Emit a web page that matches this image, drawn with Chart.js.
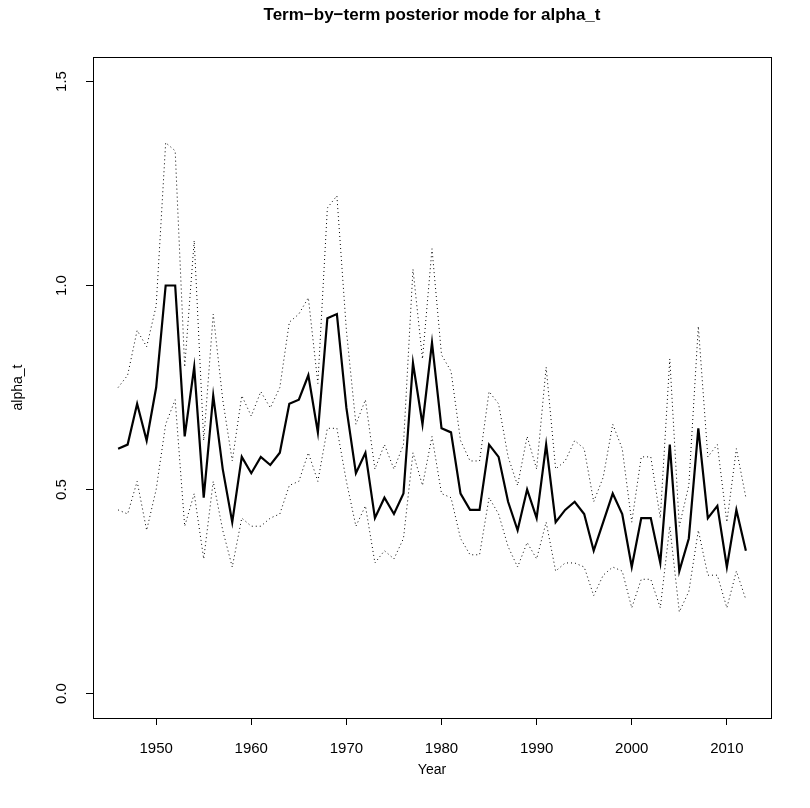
<!DOCTYPE html>
<html>
<head>
<meta charset="utf-8">
<script src="https://cdn.jsdelivr.net/npm/chart.js@4"></script>
<style>
  body { margin: 0; background: #fff; }
  canvas { display: block; }
</style>
</head>
<body>
<canvas id="chart" width="810" height="808"></canvas>
<script>
const years = [];
for (let y = 1946; y <= 2012; y++) years.push(y);

const mode = [0.60, 0.61, 0.71, 0.62, 0.75, 1.00, 1.00, 0.63, 0.80, 0.48,
  0.73, 0.55, 0.42, 0.58, 0.54, 0.58, 0.56, 0.59, 0.71, 0.72,
  0.78, 0.64, 0.92, 0.93, 0.70, 0.54, 0.59, 0.43, 0.48, 0.44,
  0.49, 0.81, 0.66, 0.86, 0.65, 0.64, 0.49, 0.45, 0.45, 0.61,
  0.58, 0.47, 0.40, 0.50, 0.43, 0.61, 0.42, 0.45, 0.47, 0.44,
  0.35, 0.42, 0.49, 0.44, 0.31, 0.43, 0.43, 0.32, 0.61, 0.30,
  0.38, 0.65, 0.43, 0.46, 0.31, 0.45, 0.35];

const upper = [0.75, 0.78, 0.89, 0.85, 0.95, 1.35, 1.33, 0.80, 1.11, 0.62,
  0.93, 0.72, 0.57, 0.73, 0.68, 0.74, 0.70, 0.75, 0.91, 0.93,
  0.97, 0.76, 1.19, 1.22, 0.89, 0.66, 0.72, 0.55, 0.61, 0.55,
  0.61, 1.04, 0.82, 1.09, 0.83, 0.79, 0.62, 0.57, 0.57, 0.74,
  0.71, 0.58, 0.51, 0.63, 0.55, 0.80, 0.55, 0.57, 0.62, 0.60,
  0.47, 0.53, 0.66, 0.60, 0.42, 0.58, 0.58, 0.43, 0.82, 0.41,
  0.51, 0.90, 0.58, 0.61, 0.42, 0.60, 0.48];

const lower = [0.45, 0.44, 0.52, 0.40, 0.50, 0.66, 0.72, 0.41, 0.49, 0.33,
  0.52, 0.40, 0.31, 0.43, 0.41, 0.41, 0.43, 0.44, 0.51, 0.52,
  0.59, 0.52, 0.65, 0.65, 0.52, 0.41, 0.46, 0.32, 0.35, 0.33,
  0.38, 0.59, 0.51, 0.63, 0.49, 0.48, 0.38, 0.34, 0.34, 0.48,
  0.44, 0.36, 0.31, 0.37, 0.33, 0.42, 0.30, 0.32, 0.32, 0.31,
  0.24, 0.29, 0.31, 0.30, 0.21, 0.28, 0.28, 0.21, 0.41, 0.20,
  0.25, 0.40, 0.29, 0.29, 0.21, 0.30, 0.23];

const xTicks = [1950, 1960, 1970, 1980, 1990, 2000, 2010];
const yTicks = [0.0, 0.5, 1.0, 1.5];

const FONT = "'Liberation Sans', Arial, Helvetica, sans-serif";
const TICK = 15;
const LAB = 14;

function pts(vals) {
  return years.map((y, i) => ({ x: y, y: vals[i] }));
}

// R-style extras: box, title, axis titles, rotated y tick labels
const rDecor = {
  id: "rDecor",
  afterDraw(chart) {
    const ctx = chart.ctx;
    const a = chart.chartArea;
    const ys = chart.scales.y;
    ctx.save();
    ctx.strokeStyle = "#000";
    ctx.lineWidth = 1;
    ctx.strokeRect(a.left + 0.5, a.top + 0.5, a.right - a.left, a.bottom - a.top);

    ctx.fillStyle = "#000";
    ctx.textAlign = "center";
    ctx.textBaseline = "middle";
    ctx.font = "bold 17px " + FONT;
    ctx.fillText("Term\u2212by\u2212term posterior mode for alpha_t", (a.left + a.right) / 2, 15);

    ctx.font = LAB + "px " + FONT;
    ctx.fillText("Year", (a.left + a.right) / 2, 770);

    ctx.save();
    ctx.translate(18, (a.top + a.bottom) / 2);
    ctx.rotate(-Math.PI / 2);
    ctx.fillText("alpha_t", 0, 0);
    ctx.restore();

    ctx.font = TICK + "px " + FONT;
    yTicks.forEach(v => {
      const py = ys.getPixelForValue(v);
      ctx.save();
      ctx.translate(62, py);
      ctx.rotate(-Math.PI / 2);
      ctx.fillText(v.toFixed(1), 0, 0);
      ctx.restore();
    });
    ctx.restore();
  }
};

new Chart(document.getElementById("chart").getContext("2d"), {
  type: "line",
  data: {
    datasets: [
      { data: pts(mode), borderColor: "#000", borderWidth: 2.2, pointRadius: 0, tension: 0 },
      { data: pts(upper), borderColor: "#000", borderWidth: 1, borderDash: [1, 3], pointRadius: 0, tension: 0 },
      { data: pts(lower), borderColor: "#000", borderWidth: 1, borderDash: [1, 3], pointRadius: 0, tension: 0 }
    ]
  },
  options: {
    responsive: false,
    animation: false,
    devicePixelRatio: 1,
    layout: { padding: { top: 57, right: 39, left: 0, bottom: 0 } },
    plugins: { legend: { display: false }, tooltip: { enabled: false } },
    scales: {
      x: {
        type: "linear",
        // R default: data range widened by 4%
        min: 1946 - 66 * 0.04,
        max: 2012 + 66 * 0.04,
        afterBuildTicks: s => { s.ticks = xTicks.map(v => ({ value: v })); },
        afterFit: s => { s.height = 90; },
        border: { display: false },
        grid: { drawOnChartArea: false, color: "#000", tickLength: 7, tickWidth: 1 },
        ticks: { color: "#000", font: { size: TICK, family: FONT }, padding: 15, maxRotation: 0, callback: v => String(v) }
      },
      y: {
        min: -0.06,
        max: 1.56,
        afterBuildTicks: s => { s.ticks = yTicks.map(v => ({ value: v })); },
        afterFit: s => { s.width = 93; },
        border: { display: false },
        grid: { drawOnChartArea: false, color: "#000", tickLength: 7, tickWidth: 1 },
        ticks: { display: true, color: "rgba(0,0,0,0)", font: { size: TICK, family: FONT } }
      }
    }
  },
  plugins: [rDecor]
});
</script>
</body>
</html>
